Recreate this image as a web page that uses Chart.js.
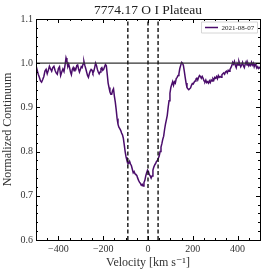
<!DOCTYPE html>
<html><head><meta charset="utf-8">
<script src="https://cdn.jsdelivr.net/npm/chart.js@4.4.1/dist/chart.umd.min.js"></script>
<style>html,body{margin:0;padding:0;background:#fff}#wrap{width:266px;height:275px}</style>
</head><body><div id="wrap"><canvas id="c" width="266" height="275"></canvas></div>
<script>
const titleText = "7774.17 O I Plateau";
const seriesLabel = "2021-08-07";
const xLabel = "Velocity [km s\u207B\u00B9]";
const yLabel = "Normalized Continuum";
const xTicks = [-400, -200, 0, 200, 400];
const yTicks = [0.6, 0.7, 0.8, 0.9, 1.0, 1.1];
const markerVelocities = [-90, 0, 45];
const continuumLevel = 1.0;
const velocity = [-500,-495,-490,-485,-480,-475,-470,-465,-460,-455,-450,-445,-440,-435,-430,-425,-420,-415,-410,-405,-400,-395,-390,-385,-380,-375,-370,-366,-362,-358,-354,-350,-346,-342,-338,-334,-330,-326,-322,-318,-314,-310,-306,-302,-298,-294,-290,-286,-282,-278,-274,-270,-266,-262,-258,-254,-250,-246,-242,-238,-234,-230,-226,-222,-218,-214,-210,-206,-202,-198,-194,-190,-186,-182,-178,-174,-170,-166,-162,-158,-154,-150,-146,-142,-138,-134,-130,-126,-122,-118,-114,-110,-106,-102,-98,-94,-90,-86,-82,-78,-74,-70,-66,-62,-58,-54,-50,-46,-42,-38,-34,-30,-26,-22,-18,-14,-10,-6,-2,2,6,10,14,18,22,26,30,34,38,42,46,50,54,58,62,66,70,74,78,82,86,90,94,98,102,106,110,114,118,122,126,130,134,138,142,146,150,154,158,162,166,170,174,178,182,186,190,194,198,202,206,210,214,218,222,226,230,234,238,242,246,250,254,258,262,266,270,274,278,282,286,290,294,298,302,306,310,314,318,322,326,330,334,338,342,346,350,354,358,362,366,370,374,378,382,386,390,394,398,402,406,410,414,418,422,426,430,434,438,442,446,450,454,458,462,466,470,474,478,482,486,490,494,498,500];
const flux = [0.995,0.985,0.975,0.968,0.960,0.957,0.963,0.970,0.982,0.986,0.976,0.984,0.993,0.987,0.982,0.990,0.993,0.984,0.978,0.975,0.988,0.992,0.972,0.980,0.987,0.981,0.997,1.012,1.005,0.992,0.998,0.990,0.980,0.974,0.986,0.990,0.983,0.988,0.986,0.995,0.996,0.987,0.980,0.986,0.992,0.990,0.998,1.004,0.995,0.988,0.980,0.972,0.968,0.976,0.982,0.986,0.984,0.978,0.982,0.990,1.000,0.995,0.986,0.980,0.976,0.980,0.988,0.990,0.984,0.986,0.992,0.997,0.994,0.975,0.955,0.945,0.935,0.930,0.930,0.938,0.942,0.925,0.912,0.895,0.875,0.862,0.855,0.852,0.848,0.842,0.838,0.830,0.815,0.800,0.788,0.780,0.776,0.773,0.778,0.772,0.768,0.760,0.752,0.755,0.750,0.748,0.746,0.740,0.735,0.731,0.728,0.724,0.726,0.722,0.730,0.735,0.745,0.752,0.758,0.755,0.748,0.745,0.740,0.745,0.758,0.765,0.770,0.773,0.778,0.780,0.785,0.790,0.800,0.810,0.818,0.828,0.835,0.850,0.862,0.872,0.882,0.900,0.915,0.932,0.945,0.952,0.958,0.950,0.958,0.955,0.965,0.968,0.972,0.976,0.988,0.995,1.002,1.000,0.995,0.982,0.968,0.955,0.945,0.942,0.940,0.942,0.944,0.950,0.954,0.953,0.957,0.960,0.964,0.966,0.962,0.968,0.972,0.970,0.966,0.970,0.966,0.960,0.958,0.962,0.956,0.958,0.955,0.960,0.956,0.962,0.960,0.965,0.962,0.968,0.966,0.970,0.965,0.972,0.968,0.970,0.968,0.974,0.976,0.978,0.975,0.980,0.982,0.978,0.984,0.982,0.986,0.990,0.994,1.002,0.998,1.004,0.995,0.990,1.000,0.996,1.004,0.998,0.992,0.996,1.002,0.994,0.990,0.998,1.003,0.996,1.000,0.994,0.998,0.995,1.002,0.996,1.000,0.992,0.998,0.994,0.989,0.992,0.988,0.990,0.988];

const SERIF = "'Liberation Serif', 'DejaVu Serif', serif";
const LINE_COLOR = '#4a0c6b';

const datasets = [{
  label: seriesLabel,
  data: velocity.map((v, i) => ({x: v, y: flux[i]})),
  borderColor: LINE_COLOR, borderWidth: 1.5, pointRadius: 0, tension: 0, order: 2
}, {
  label: '_hline',
  data: [{x: -500, y: continuumLevel}, {x: 500, y: continuumLevel}],
  borderColor: '#333333', borderWidth: 1.3, pointRadius: 0, order: 1
}];
markerVelocities.forEach(v => datasets.push({
  label: '_vline',
  data: [{x: v, y: 0.6}, {x: v, y: 1.1}],
  borderColor: '#111111', borderWidth: 1.4, borderDash: [4, 2.5], pointRadius: 0, order: 0
}));

const fmtMinus = s => String(s).replace('-', '\u2212');

const framePlugin = {
  id: 'frame',
  afterDraw(chart) {
    const ctx = chart.ctx, a = chart.chartArea, xs = chart.scales.x, ys = chart.scales.y;
    ctx.save();
    ctx.strokeStyle = '#000'; ctx.lineWidth = 1;
    ctx.beginPath();
    for (let v = -500; v <= 500; v += 50) {
      const px = Math.round(xs.getPixelForValue(v)) + 0.5;
      const len = (v % 200 === 0) ? 4 : 2;
      ctx.moveTo(px, a.bottom); ctx.lineTo(px, a.bottom - len);
      ctx.moveTo(px, a.top); ctx.lineTo(px, a.top + len);
    }
    for (let k = 30; k <= 55; k++) {
      const v = k * 0.02;
      const py = Math.round(ys.getPixelForValue(v)) + 0.5;
      const len = (k % 5 === 0) ? 4 : 2;
      ctx.moveTo(a.left, py); ctx.lineTo(a.left + len, py);
      ctx.moveTo(a.right, py); ctx.lineTo(a.right - len, py);
    }
    ctx.stroke();
    ctx.strokeRect(Math.round(a.left) + 0.5, Math.round(a.top) + 0.5, Math.round(a.right - a.left), Math.round(a.bottom - a.top));
    // title centred over the plot area
    ctx.fillStyle = '#222'; ctx.font = "13.5px " + SERIF; ctx.textAlign = 'center'; ctx.textBaseline = 'middle';
    ctx.fillText(titleText, (a.left + a.right) / 2, 10);
    // legend
    const bx = a.right - 59, by = a.top + 2.5, bw = 56, bh = 11;
    ctx.fillStyle = '#fff'; ctx.strokeStyle = '#cccccc'; ctx.lineWidth = 0.8;
    ctx.beginPath(); ctx.rect(bx + 0.5, by + 0.5, bw, bh); ctx.fill(); ctx.stroke();
    ctx.strokeStyle = LINE_COLOR; ctx.lineWidth = 1.5;
    ctx.beginPath(); ctx.moveTo(bx + 4, by + 6); ctx.lineTo(bx + 17, by + 6); ctx.stroke();
    ctx.fillStyle = '#222'; ctx.font = "7px " + SERIF; ctx.textAlign = 'left'; ctx.textBaseline = 'middle';
    ctx.fillText(seriesLabel, bx + 20.5, by + 6.3);
    ctx.restore();
  }
};

new Chart(document.getElementById('c'), {
  type: 'line',
  data: { datasets },
  options: {
    responsive: false, animation: false, devicePixelRatio: 1,
    layout: { padding: { left: 0, right: 6, top: 19, bottom: 0 } },
    plugins: {
      legend: { display: false },
      tooltip: { enabled: false },
      title: { display: false }
    },
    scales: {
      x: {
        type: 'linear', min: -500, max: 500,
        grid: { display: false, drawTicks: false }, border: { display: false },
        afterBuildTicks: s => { s.ticks = xTicks.map(v => ({value: v})); },
        afterFit: s => { s.height = 35; },
        ticks: { color: '#333', font: { family: SERIF, size: 10 }, padding: 3, maxRotation: 0,
          callback: v => fmtMinus(v) },
        title: { display: true, text: xLabel, color: '#333', font: { family: SERIF, size: 12 }, padding: { top: 0, bottom: 5 } }
      },
      y: {
        type: 'linear', min: 0.6, max: 1.1,
        grid: { display: false, drawTicks: false }, border: { display: false },
        afterBuildTicks: s => { s.ticks = yTicks.map(v => ({value: v})); },
        afterFit: s => { s.width = 36; },
        ticks: { color: '#333', font: { family: SERIF, size: 10 }, padding: 3,
          callback: v => Number(v).toFixed(1) },
        title: { display: true, text: yLabel, color: '#333', font: { family: SERIF, size: 12 }, padding: { top: 1, bottom: 0 } }
      }
    }
  },
  plugins: [framePlugin]
});
</script></body></html>
